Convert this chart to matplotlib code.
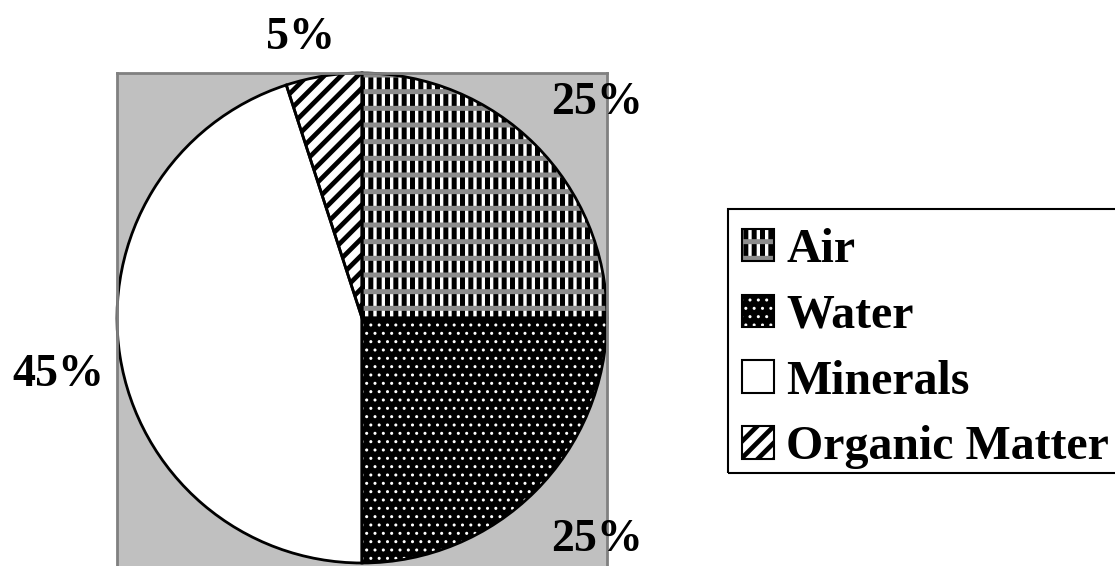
import numpy as np
import matplotlib
matplotlib.use("Agg")
import matplotlib.pyplot as plt
from matplotlib.patches import Patch, Rectangle
from matplotlib.legend_handler import HandlerTuple, HandlerPatch

# ---- data ----
categories = ["Air", "Water", "Minerals", "Organic Matter"]
values = [25, 25, 45, 5]
pct_labels = ["25%", "25%", "45%", "5%"]

plt.rcParams['font.family'] = ['Liberation Serif', 'DejaVu Serif']
plt.rcParams['font.weight'] = 'bold'

W, H = 1115, 566
fig = plt.figure(figsize=(W / 100, H / 100), dpi=100)

# plot area box in pixels
left_px, top_px, width_px, height_px = 117, 73, 490, 530
ax = fig.add_axes([left_px / W, (H - top_px - height_px) / H, width_px / W, height_px / H])

common = dict(startangle=90, counterclock=False, radius=1, center=(0, 0))

# base fills
base_colors = ['white', 'black', 'white', 'white']
ax.pie(values, colors=base_colors, wedgeprops=dict(linewidth=0, edgecolor='none'), **common)

# hatch layer 1
h1_hatch = ['||', '..', '', '//']
h1_color = ['black', 'white', 'white', 'black']
h1_lw = [3.6, 1.0, 1.0, 3.4]
wedges1, _ = ax.pie(values, colors=['none'] * 4,
                    wedgeprops=dict(linewidth=0, fill=False), **common)
for w, hh, hc, lw in zip(wedges1, h1_hatch, h1_color, h1_lw):
    w.set_edgecolor(hc)
    w.set_hatch(hh)
    if hasattr(w, 'set_hatch_linewidth'):
        w.set_hatch_linewidth(lw)

# hatch layer 2 (grey bands over the air slice)
h2_hatch = ['-', '', '', '']
h2_color = ['#8c8c8c', 'none', 'none', 'none']
h2_lw = 3.6
wedges2, _ = ax.pie(values, colors=['none'] * 4,
                    wedgeprops=dict(linewidth=0, fill=False), **common)
for w, hh, hc in zip(wedges2, h2_hatch, h2_color):
    w.set_edgecolor(hc)
    w.set_hatch(hh)
    if hasattr(w, 'set_hatch_linewidth'):
        w.set_hatch_linewidth(h2_lw)

# outlines
wedges_o, _ = ax.pie(values, colors=['none'] * 4,
                     wedgeprops=dict(linewidth=2, edgecolor='black', fill=False), **common)

ax.set_frame_on(True)
ax.set_facecolor('#c0c0c0')
for s in ax.spines.values():
    s.set_visible(True)
    s.set_color('#808080')
    s.set_linewidth(2)
ax.set_xticks([])
ax.set_yticks([])
ax.set_aspect('auto')
ax.set_xlim(-1.0, 1.0)
yspan = 2.0 * height_px / width_px
ax.set_ylim(1.0 - yspan, 1.0)

# percentage labels
label_r = [1.30, 1.32, 1.26, 1.17]
label_nudge = [-2.5, 1.6, 1.7, 3.3]
for w, txt, r, nd in zip(wedges_o, pct_labels, label_r, label_nudge):
    mid = np.deg2rad((w.theta1 + w.theta2) / 2 + nd)
    ax.text(r * np.cos(mid), r * np.sin(mid), txt, ha='center', va='center',
            fontsize=33, fontweight='bold', clip_on=False)


class HatchHandler(HandlerPatch):
    def create_artists(self, legend, orig_handle, xdescent, ydescent, width,
                       height, fontsize, trans):
        arts = super().create_artists(legend, orig_handle, xdescent, ydescent,
                                      width, height, fontsize, trans)
        for a in arts:
            if hasattr(orig_handle, 'get_hatch_linewidth'):
                a.set_hatch_linewidth(orig_handle.get_hatch_linewidth())
            a.set_edgecolor(orig_handle.get_edgecolor())
            a.set_linewidth(orig_handle.get_linewidth())
        return arts


# legend handles
handles = []
for i in range(4):
    parts = [Patch(facecolor=base_colors[i], edgecolor='none', linewidth=0)]
    p1 = Patch(facecolor='none', edgecolor=h1_color[i], hatch=h1_hatch[i], linewidth=0, fill=False)
    if hasattr(p1, 'set_hatch_linewidth'):
        p1.set_hatch_linewidth(h1_lw[i])
    parts.append(p1)
    if h2_hatch[i]:
        p2 = Patch(facecolor='none', edgecolor=h2_color[i], hatch=h2_hatch[i], linewidth=0, fill=False)
        if hasattr(p2, 'set_hatch_linewidth'):
            p2.set_hatch_linewidth(h2_lw)
        parts.append(p2)
    parts.append(Patch(facecolor='none', edgecolor='black', linewidth=1.5, fill=False))
    handles.append(tuple(parts))

# legend frame (drawn separately so its extent matches the reference box)
fig.patches.append(Rectangle((728 / W, 1 - 473 / H), (1125 - 728) / W, (473 - 209) / H,
                             transform=fig.transFigure, fill=False,
                             edgecolor='black', linewidth=1.5, zorder=5))

leg = fig.legend(handles, categories, loc='upper left',
                 bbox_to_anchor=(742 / W, 1 - 228 / H),
                 handler_map={tuple: HandlerTuple(ndivide=1, pad=0),
                              Patch: HatchHandler()},
                 prop=dict(family='Liberation Serif', weight='bold', size=34.5),
                 frameon=False,
                 handlelength=0.67, handleheight=0.67, handletextpad=0.25,
                 labelspacing=0.455, borderpad=0, borderaxespad=0)

fig.savefig('out.png', dpi=100)
